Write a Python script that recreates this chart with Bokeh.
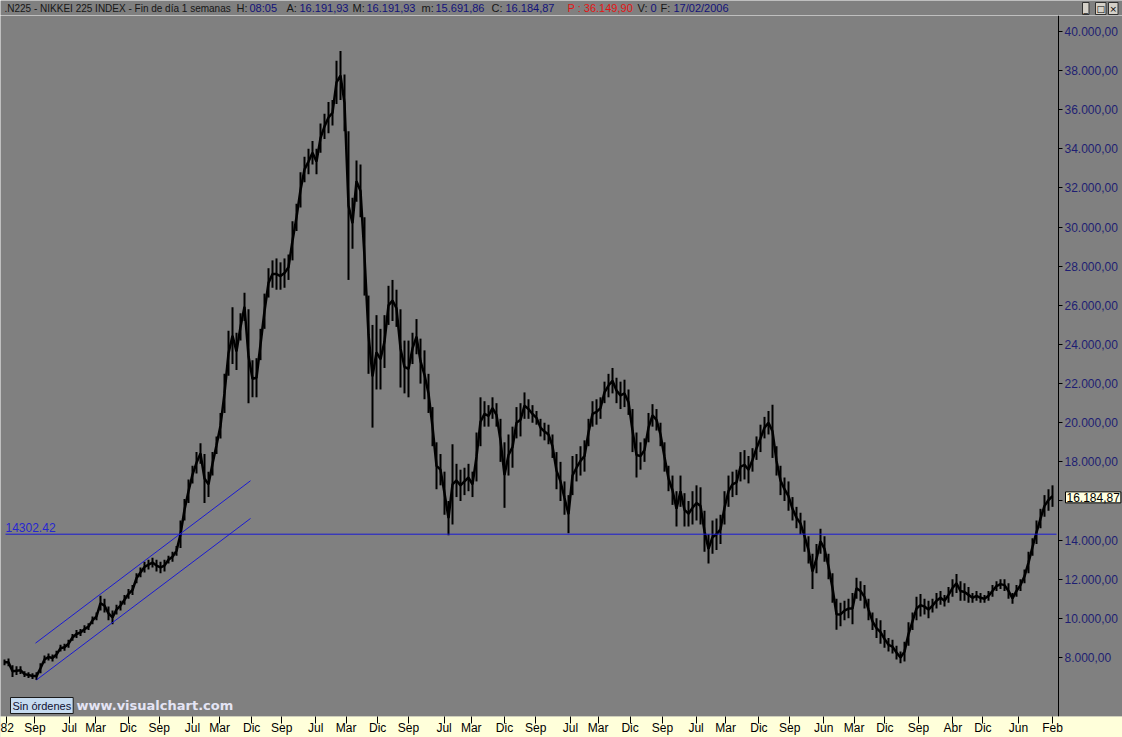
import numpy as np
from bokeh.plotting import figure
from bokeh.layouts import column
from bokeh.models import Range1d, FixedTicker, Label
from bokeh.embed import file_html
from bokeh.resources import INLINE

highs = [
    7900, 7950, 7600, 7550, 7550, 7300, 7250, 7200, 7250, 7700,
    8100, 8200, 8150, 8350, 8650, 8700, 8900, 9200, 9400, 9450,
    9650, 9750, 10100, 10300, 11150, 11000, 10600, 10400, 10700, 10900,
    11200, 11500, 11700, 12300, 12600, 12900, 13000, 13100, 13000, 12900,
    13000, 13200, 13400, 13700, 15000, 16100, 17100, 17800, 18500, 18950,
    18400, 17500, 18500, 19300, 20500, 22500, 24700, 25900, 24600, 25600,
    26650, 25800, 23200, 23300, 24800, 26600, 27900, 28300, 28400, 28200,
    28400, 28600, 30300, 31200, 32800, 33600, 34000, 34400, 34000, 35300,
    35800, 36400, 36500, 38500, 39000, 37800, 34900, 31500, 33400, 33200,
    30500, 26500, 25000, 25500, 24800, 25500, 27000, 27300, 26800, 25800,
    24200, 24200, 24600, 25300, 24300, 23700, 22500, 20800, 19000, 18400,
    17500, 16000, 18900, 17900, 17600, 17700, 17900, 17500, 19500, 21300,
    21100, 20900, 21300, 21000, 20200, 19000, 19400, 19800, 20800, 21000,
    21550, 21200, 20900, 20600, 20200, 20000, 19900, 19400, 18500, 18000,
    17000, 16300, 18300, 18400, 18800, 19100, 20200, 21100, 21200, 21300,
    22100, 22500, 22800, 22300, 22100, 22200, 21700, 20700, 19500, 19000,
    19200, 20500, 20950, 20700, 20000, 19000, 17800, 17300, 16500, 17300,
    16400, 16000, 16500, 16800, 16700, 15500, 14300, 15000, 15100, 15300,
    16500, 17300, 17500, 17600, 18500, 18600, 18300, 18700, 19300, 19900,
    20300, 20600, 20920, 18800, 17800, 17200, 17000, 16200, 15700, 15400,
    15000, 14200, 13300, 13800, 14580, 14200, 13300, 12300, 11000, 10800,
    10900, 11000, 11300, 12070, 11900, 11700, 11000, 10300, 10000, 9900,
    9400, 9000, 8900, 8600, 8300, 8800, 9800, 10300, 11100, 11250,
    11000, 10900, 11000, 11300, 11400, 11200, 11600, 12000, 12270, 11900,
    11800, 11600, 11300, 11400, 11300, 11200, 11400, 11700, 11900, 12000,
    12000, 11800, 11300, 11700, 12000, 12500, 13400, 14100, 15000, 15600,
    16300, 16600, 16800,
]
lows = [
    7600, 7550, 7000, 7100, 7150, 7000, 6950, 6900, 6850, 7200,
    7700, 7850, 7800, 7950, 8300, 8350, 8500, 8850, 9000, 9100,
    9250, 9400, 9700, 9900, 10400, 10300, 9900, 9700, 10200, 10400,
    10700, 11000, 11200, 11800, 12100, 12350, 12500, 12600, 12400, 12300,
    12400, 12800, 12900, 13200, 13600, 15000, 15900, 16900, 17400, 17900,
    15900, 16200, 17300, 18400, 19200, 20500, 22400, 23000, 22700, 24200,
    25200, 21000, 21300, 21300, 23200, 24800, 26400, 26900, 26800, 26800,
    26900, 27300, 28300, 29800, 31000, 32300, 32700, 33200, 32700, 33800,
    34500, 34800, 35200, 36300, 36500, 34900, 27300, 28900, 31300, 30500,
    26500, 22500, 19750, 21700, 21700, 22800, 25000, 25200, 24900, 21800,
    21500, 21300, 23000, 23500, 22000, 21200, 20500, 18800, 16600, 16800,
    15300, 14250, 14800, 16200, 16000, 16300, 16500, 16200, 17000, 18800,
    19800, 19800, 20200, 19800, 18000, 15650, 17300, 17700, 19200, 19300,
    20200, 20200, 20000, 19900, 19300, 19100, 18900, 18200, 16600, 16000,
    15300, 14350, 16300, 17000, 17300, 17500, 18800, 19800, 19900, 20200,
    21000, 21300, 21500, 21000, 20700, 20800, 20400, 18500, 17200, 17600,
    18000, 19000, 19800, 19600, 18800, 17500, 16500, 15800, 14700, 15700,
    14700, 14700, 14800, 15000, 14800, 13400, 12800, 13300, 13500, 13800,
    14800, 15700, 16200, 16300, 17000, 17100, 16900, 17500, 18100, 18500,
    19200, 19400, 18200, 17300, 16300, 16000, 15500, 15000, 14600, 14300,
    13400, 12800, 11500, 12300, 13300, 12900, 12000, 10800, 9420, 9600,
    9900, 10000, 9700, 11000, 10900, 10500, 9900, 9400, 9000, 8700,
    8500, 8300, 8200, 7900, 7700, 7800, 8600, 9400, 9900, 10100,
    10200, 10000, 10300, 10500, 10700, 10600, 10800, 11100, 11300, 10900,
    10900, 10800, 10800, 10900, 10800, 10800, 10900, 11100, 11400, 11500,
    11400, 11000, 10750, 11100, 11400, 11800, 12300, 13200, 13800, 14600,
    15200, 15500, 15700,
]

# time-axis labels and the bar-index bins where they sit
tick_labels = ["82", "Sep", "Jul", "Mar", "Dic", "Sep", "Jul", "Mar", "Dic", "Sep",
               "Jul", "Mar", "Dic", "Sep", "Jul", "Mar", "Dic", "Sep", "Jul", "Mar",
               "Dic", "Sep", "Jul", "Mar", "Dic", "Sep", "Jun", "Mar", "Dic", "Sep",
               "Abr", "Dic", "Jun", "Feb"]
tick_bins = [0.4, 7.6, 16.2, 22.8, 30.9, 38.7, 47.0, 53.8, 61.8, 69.3,
             77.8, 85.4, 93.3, 101.0, 109.9, 116.7, 125.0, 132.8, 141.5, 148.4,
             156.4, 164.5, 172.9, 180.3, 188.6, 196.3, 204.8, 212.4, 220.1, 228.5,
             237.1, 244.6, 253.5, 262.0]

y_ticks = list(range(8000, 40001, 2000))

support_level = 14302.42
last_close = 16184.87

# trend channel (bin, value) end points
chan_x0 = [7.75, 8.0]
chan_y0 = [8732, 6854]
chan_x1 = [61.5, 61.5]
chan_y1 = [17034, 15106]

# header values
header = [
    (".N225 - NIKKEI 225 INDEX - Fin de día 1 semanas", "label"),
    ("H:", "label"), ("08:05", "value"),
    ("A:", "label"), ("16.191,93", "value"),
    ("M:", "label"), ("16.191,93", "value"),
    ("m:", "label"), ("15.691,86", "value"),
    ("C:", "label"), ("16.184,87", "value"),
    ("P : 36.149,90", "alert"),
    ("V:", "label"), ("0", "value"),
    ("F:", "label"), ("17/02/2006", "value"),
]
header_px = [4, 236, 249, 286, 299, 352, 366, 421, 435, 491, 505, 567, 637, 650, 660, 673]

# ---- layout constants (window pixels) ----
GRAY = "#808080"
W = 1122
TOP_H = 15
MAIN_H = 722
AXIS_PX = 1058          # position of the price scale line
FRAME_H = 701
BIN_PX = 4.0
X0 = -1.0
X1 = X0 + W / BIN_PX
PX_PER_VAL = 51.12
Y1 = 40000 + (31 - 15) * PX_PER_VAL
Y0 = Y1 - FRAME_H * PX_PER_VAL


def xw(px):
    return X0 + px / BIN_PX


def yw(py):
    return Y1 - (py - TOP_H) * PX_PER_VAL


def fmt(v):
    s = f"{v:,.2f}"
    return s.replace(",", "#").replace(".", ",").replace("#", ".")


# ---- header bar ----
top = figure(width=W, height=TOP_H, output_backend="svg", toolbar_location=None,
             x_range=Range1d(0, W), y_range=Range1d(TOP_H, 0),
             x_axis_type=None, y_axis_type=None,
             min_border_left=0, min_border_right=0, min_border_top=0, min_border_bottom=0)
top.background_fill_color = GRAY
top.border_fill_color = GRAY
top.outline_line_color = None
top.grid.visible = False
colors = {"label": "#161616", "value": "#12127a", "alert": "#e41414"}
for px, (txt, kind) in zip(header_px, header):
    size = "10px" if kind == "label" and len(txt) > 3 else "11px"
    top.add_layout(Label(x=px, y=7.5, text=txt, text_font="Liberation Sans",
                         text_font_size=size, text_color=colors[kind], text_baseline="middle"))
for px, g in [(1082, "_"), (1095, "□"), (1108, "×")]:
    top.add_layout(Label(x=px, y=2, text=g, text_font="DejaVu Sans", text_font_size="9px",
                         text_color="black", text_baseline="top", background_fill_color="#d4d0c8",
                         border_line_color="#303030", padding=1))

# ---- main chart ----
p = figure(width=W, height=MAIN_H, output_backend="svg", toolbar_location=None,
           x_range=Range1d(X0, X1), y_range=Range1d(Y0, Y1),
           y_axis_location="right",
           min_border_left=0, min_border_top=0, min_border_bottom=MAIN_H - FRAME_H,
           min_border_right=0)
p.background_fill_color = GRAY
p.border_fill_color = GRAY
p.outline_line_color = None
p.grid.visible = False

xa = p.xaxis[0]
xa.ticker = FixedTicker(ticks=tick_bins)
xa.major_label_overrides = {t: l for t, l in zip(tick_bins, tick_labels)}
xa.axis_line_color = None
xa.major_tick_line_color = "black"
xa.major_tick_out = 7
xa.major_tick_in = 0
xa.minor_tick_line_color = None
xa.major_label_text_align = "left"
xa.major_label_standoff = -3
xa.major_label_text_font = "Liberation Sans"
xa.major_label_text_font_size = "12px"
xa.major_label_text_color = "black"
xa.background_fill_color = "#ffffda"

ya = p.yaxis[0]
ya.fixed_location = xw(AXIS_PX)
ya.ticker = FixedTicker(ticks=y_ticks)
ya.major_label_overrides = {t: ("" if t == 16000 else fmt(t)) for t in y_ticks}
ya.axis_line_color = "black"
ya.major_tick_line_color = "black"
ya.major_tick_out = 4
ya.major_tick_in = 0
ya.minor_tick_line_color = None
ya.major_label_standoff = 2
ya.major_label_text_font = "Liberation Sans"
ya.major_label_text_font_size = "12px"
ya.major_label_text_color = "#1e1e72"

# price bars: range of each bin, joined through their middles
idx = np.arange(len(highs))
mids = (np.array(highs) + np.array(lows)) / 2.0
p.segment(x0=idx, y0=lows, x1=idx, y1=highs, line_color="black", line_width=2)
p.line(x=idx, y=mids, line_color="black", line_width=2.5)

# support line and label
p.segment(x0=[xw(5)], y0=[support_level], x1=[xw(AXIS_PX - 2)], y1=[support_level],
          line_color="#1a1ad2", line_width=1)
p.add_layout(Label(x=xw(5), y=support_level, y_offset=2, text=f"{support_level:.2f}",
                   text_font="Liberation Sans", text_font_size="12px", text_color="#2626d0",
                   text_baseline="bottom"))

# channel lines
p.segment(x0=chan_x0, y0=chan_y0, x1=chan_x1, y1=chan_y1, line_color="#1a1ad2", line_width=1)

# last price box on the price scale
p.add_layout(Label(x=xw(1065), y=last_close, text=fmt(last_close),
                   text_font="Liberation Sans", text_font_size="12px", text_color="black",
                   text_baseline="middle", background_fill_color="#ffffe1",
                   border_line_color="black", padding=1, level="overlay"))

# bottom overlays
p.add_layout(Label(x=xw(10), y=yw(697), text="Sin órdenes", text_font="Liberation Sans",
                   text_font_size="11px", text_color="#101030", text_baseline="top",
                   background_fill_color="#c6dbf0", border_line_color="#1a1a1a", padding=2))
p.add_layout(Label(x=xw(76), y=yw(697), text="www.visualchart.com", text_font="DejaVu Sans",
                   text_font_style="bold", text_font_size="13px", text_color="#e4e4f4",
                   text_baseline="top"))

open("out.html", "w").write(file_html(column(top, p, spacing=0), INLINE))
